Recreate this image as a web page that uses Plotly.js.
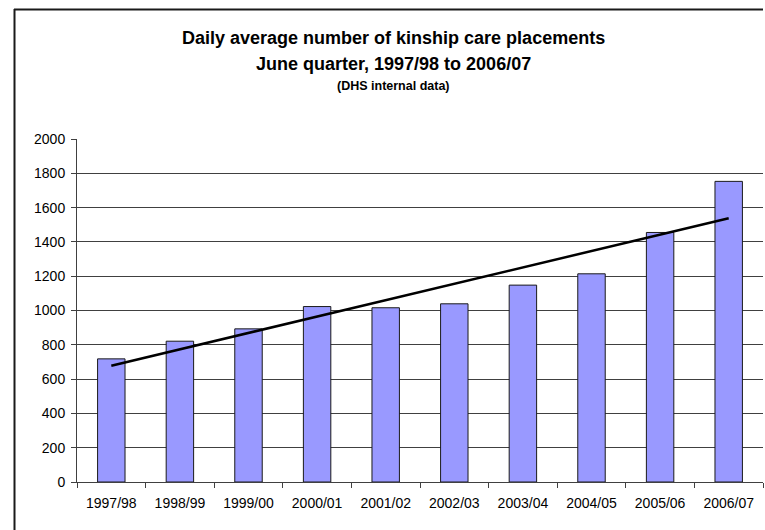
<!DOCTYPE html>
<html>
<head>
<meta charset="utf-8">
<script src="https://cdn.plot.ly/plotly-3.0.1.min.js"></script>
<style>html,body{margin:0;padding:0;background:#fff;overflow:hidden;}#chart{width:765px;height:530px;}</style>
</head>
<body>
<div id="chart"></div>
<script>
const categories = ["1997/98","1998/99","1999/00","2000/01","2001/02","2002/03","2003/04","2004/05","2005/06","2006/07"];
const placements = [718, 821, 893, 1023, 1016, 1039, 1148, 1214, 1455, 1753];
const yTicks = [0,200,400,600,800,1000,1200,1400,1600,1800,2000];
const titleLines = ["Daily average number of kinship care placements", "June quarter, 1997/98 to 2006/07", "(DHS internal data)"];

// Linear trendline (least squares) derived from the data
const n = placements.length;
const xs = placements.map((_, i) => i);
const mx = xs.reduce((a,b)=>a+b,0)/n;
const my = placements.reduce((a,b)=>a+b,0)/n;
let sxy = 0, sxx = 0;
for (let i = 0; i < n; i++) { sxy += (xs[i]-mx)*(placements[i]-my); sxx += (xs[i]-mx)*(xs[i]-mx); }
const slope = sxy/sxx, intercept = my - slope*mx;
const trend = xs.map(x => intercept + slope*x);

const FONT = "Liberation Sans, Arial, sans-serif";

const data = [
  {type:"bar", x:categories, y:placements, marker:{color:"#9999FF", line:{color:"#1a1a1a", width:1}}, hoverinfo:"x+y"},
  {type:"scatter", mode:"lines", x:categories, y:trend, line:{color:"#000", width:2.5}, hoverinfo:"skip"}
];

const layout = {
  width:765, height:530,
  margin:{l:77, r:2, t:139, b:48},
  paper_bgcolor:"#fff", plot_bgcolor:"#fff",
  showlegend:false,
  bargap:0.6,
  font:{family:FONT, color:"#000", size:14},
  xaxis:{type:"category", showgrid:false, showline:true, linecolor:"#404040", linewidth:1,
         ticks:"outside", ticklen:5, tickcolor:"#404040", tickson:"boundaries", ticklabelstandoff:8,
         tickfont:{family:FONT, size:14, color:"#000"}, fixedrange:true},
  yaxis:{range:[0,2000], tickvals:yTicks, ticktext:yTicks.map(String), showgrid:true, gridcolor:"#404040", gridwidth:1,
         showline:true, linecolor:"#404040", linewidth:1, ticks:"outside", ticklen:5, tickcolor:"#404040", ticklabelstandoff:3,
         tickfont:{family:FONT, size:14, color:"#000"}, zeroline:false, fixedrange:true},
  annotations:[
    {text:"<b>"+titleLines[0]+"</b>", xref:"paper", yref:"paper", x:0.462, y:(482-38)/343, xanchor:"center", yanchor:"middle", showarrow:false, font:{family:FONT, size:18, color:"#000"}},
    {text:"<b>"+titleLines[1]+"</b>", xref:"paper", yref:"paper", x:0.462, y:(482-64)/343, xanchor:"center", yanchor:"middle", showarrow:false, font:{family:FONT, size:18, color:"#000"}},
    {text:"<b>"+titleLines[2]+"</b>", xref:"paper", yref:"paper", x:0.462, y:(482-86)/343, xanchor:"center", yanchor:"middle", showarrow:false, font:{family:FONT, size:12.5, color:"#000"}}
  ],
  shapes:[
    {type:"line", xref:"paper", yref:"paper", x0:(14-77)/686, x1:1, y0:(482-9.5)/343, y1:(482-9.5)/343, line:{color:"#1a1a1a", width:2}},
    {type:"line", xref:"paper", yref:"paper", x0:(14.5-77)/686, x1:(14.5-77)/686, y0:(482-9)/343, y1:(482-540)/343, line:{color:"#1a1a1a", width:2}}
  ]
};

Plotly.newPlot("chart", data, layout, {displayModeBar:false, staticPlot:true});
</script>
</body>
</html>
